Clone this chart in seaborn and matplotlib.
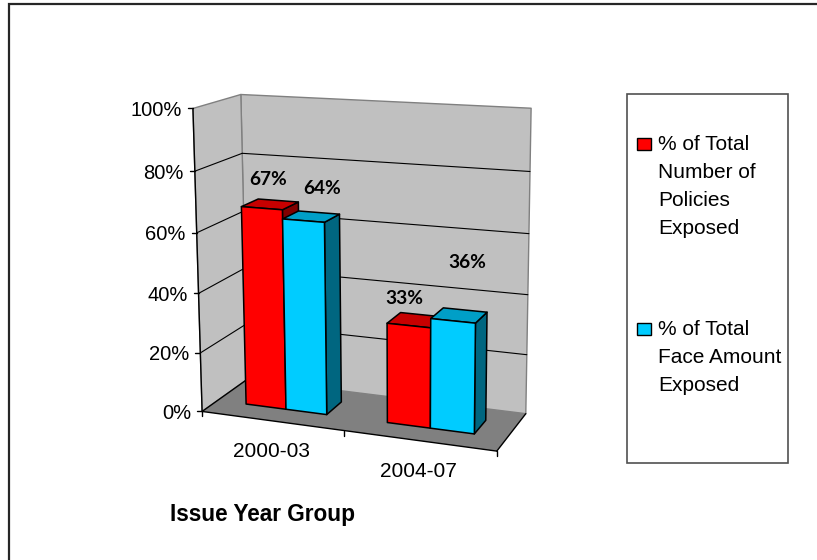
import numpy as np
import pandas as pd
import matplotlib
matplotlib.use("Agg")
import matplotlib.pyplot as plt
from matplotlib.patches import Polygon, Rectangle
from matplotlib.lines import Line2D
from matplotlib.transforms import Transform
import seaborn as sns

# ---- data -------------------------------------------------------------
groups = ["2000-03", "2004-07"]
series = ["% of Total Number of Policies Exposed",
          "% of Total Face Amount Exposed"]
policies_pct = [0.67, 0.33]
face_amount_pct = [0.64, 0.36]
value_ticks = [0.0, 0.2, 0.4, 0.6, 0.8, 1.0]
value_tick_labels = ["0%", "20%", "40%", "60%", "80%", "100%"]
legend_lines = [["% of Total", "Number of", "Policies", "Exposed"],
                ["% of Total", "Face Amount", "Exposed"]]
x_title = "Issue Year Group"

# ---- style / layout ---------------------------------------------------
W, H = 817, 560
RED, BLUE = "#FF0000", "#00CCFF"
WALL, FLOOR, WALL_EDGE = "#C0C0C0", "#808080", "#808080"
BAR_DEPTH = (0.33, 0.70)          # front / back of the columns inside the box
LABEL_OFFSETS = [(-2, -26), (11, -30), (-11, -23), (8, -54)]  # px, per column

sns.set_theme(style="white")
plt.rcParams["font.family"] = ["Liberation Sans", "DejaVu Sans"]

df = pd.DataFrame({
    "group": groups * 2,
    "series": [series[0]] * len(groups) + [series[1]] * len(groups),
    "value": policies_pct + face_amount_pct,
})

# ---- perspective camera for the 3-D plot box ---------------------------
# box coordinates: X along the categories (0..n), D depth (0 front, 1 back),
# V value (0..1); the camera is fitted to the frame of the box.
n = len(groups)
frame_3d = np.array([
    [0, 0, 0], [n, 0, 0], [0, 1, 0], [n, 1, 0],
    [0, 0, 1], [0, 1, 1], [n, 1, 1], [1, 0, 0],
    [0, 0, .2], [0, 0, .4], [0, 0, .6], [0, 0, .8],
    [0, 1, .6], [0, 1, .8], [n, 1, .6], [n, 1, .8],
], float)
frame_px = np.array([
    [203, 410], [497, 452], [246, 381], [526, 411],
    [192, 108], [242, 94], [530, 108], [343, 433],
    [201, 350], [199, 293], [197, 234], [194, 172],
    [243, 213], [243, 152], [530, 234], [530, 172],
], float)


def fit_camera(p3, p2):
    m = p2.mean(axis=0)
    s = p2.std()
    q = (p2 - m) / s
    rows = []
    for (X, D, V), (u, v) in zip(p3, q):
        p = [X, D, V, 1.0]
        rows.append(p + [0, 0, 0, 0] + [-u * c for c in p])
        rows.append([0, 0, 0, 0] + p + [-v * c for c in p])
    _, _, vt = np.linalg.svd(np.array(rows))
    P = vt[-1].reshape(3, 4)
    T = np.array([[s, 0, m[0]], [0, s, m[1]], [0, 0, 1]])
    return T @ P


CAM = fit_camera(frame_3d, frame_px)


def proj(X, D, V):
    X, D, V = np.broadcast_arrays(np.asarray(X, float), np.asarray(D, float),
                                  np.asarray(V, float))
    h = CAM @ np.vstack([X.ravel(), D.ravel(), V.ravel(), np.ones(X.size)])
    return h[0] / h[2], h[1] / h[2]


def pt(X, D, V):
    u, v = proj(X, D, V)
    return float(u[0]), float(v[0])


class FrontPlane(Transform):
    """Maps seaborn's (category position, value) onto the columns' front plane."""
    input_dims = 2
    output_dims = 2
    is_separable = False

    def __init__(self, plane_depth, x_shift):
        super().__init__()
        self.plane_depth = plane_depth
        self.x_shift = x_shift

    def transform_non_affine(self, values):
        values = np.asarray(values, float).reshape(-1, 2)
        u, v = proj(values[:, 0] + self.x_shift, self.plane_depth, values[:, 1])
        return np.column_stack([u, v])


# ---- figure -----------------------------------------------------------
fig = plt.figure(figsize=(W / 100, H / 100), dpi=100)
ax = fig.add_axes([0, 0, 1, 1])

sns.barplot(data=df, x="group", y="value", hue="series", order=groups,
            hue_order=series, palette=[RED, BLUE], saturation=1,
            width=0.58, edgecolor="black", linewidth=1.1, errorbar=None,
            legend=False, ax=ax)
bars = sorted(ax.patches, key=lambda p: p.get_x())

ax.set_xlim(0, W)
ax.set_ylim(H, 0)
ax.set_axis_off()


def face(corners, color, z, edge="black", lw=1.1):
    verts = [pt(*c) for c in corners]
    ax.add_patch(Polygon(verts, closed=True, facecolor=color, edgecolor=edge,
                         linewidth=lw, zorder=z, joinstyle="round"))


def seg(a, b, color="black", lw=0.9, z=3):
    (x0, y0), (x1, y1) = pt(*a), pt(*b)
    ax.add_line(Line2D([x0, x1], [y0, y1], color=color, lw=lw, zorder=z))


# walls and floor
face([(0, 1, 0), (n, 1, 0), (n, 1, 1), (0, 1, 1)], WALL, 1, edge=WALL_EDGE, lw=1)
face([(0, 0, 0), (0, 1, 0), (0, 1, 1), (0, 0, 1)], WALL, 1, edge=WALL_EDGE, lw=1)
face([(0, 0, 0), (n, 0, 0), (n, 1, 0), (0, 1, 0)], FLOOR, 1, edge="none", lw=0)
seg((0, 0, 0), (n, 0, 0), lw=1.0)
seg((0, 0, 0), (0, 1, 0), lw=1.0)
seg((n, 0, 0), (n, 1, 0), lw=1.0)

# gridlines on side and back walls
for v in value_ticks[1:-1]:
    seg((0, 0, v), (0, 1, v), lw=0.8, z=2)
    seg((0, 1, v), (n, 1, v), lw=0.8, z=2)

# value axis with ticks and labels
seg((0, 0, 0), (0, 0, 1), lw=1.0, z=4)
for v, lab in zip(value_ticks, value_tick_labels):
    x, y = pt(0, 0, v)
    ax.add_line(Line2D([x - 5, x], [y, y], color="black", lw=1.0, zorder=4))
    ax.text(x - 11, y, lab, ha="right", va="center_baseline", fontsize=14.5,
            color="black")

# category axis ticks and labels
for k in range(n + 1):
    x, y = pt(k, 0, 0)
    ax.add_line(Line2D([x, x], [y, y + 5], color="black", lw=1.0, zorder=4))
for k, g in enumerate(groups):
    x, y = pt(k + 0.5, 0, 0)
    ax.text(x, y + 29, g, ha="center", va="center_baseline", fontsize=15,
            color="black")

ax.text(263, 512, x_title, ha="center", va="center_baseline", fontsize=16.3,
        fontweight="bold", color="black")

# columns: seaborn front faces projected onto the front plane,
# plus top and side faces in darker shades
d0, d1 = BAR_DEPTH
front_tr = FrontPlane(d0, 0.5) + ax.transData
for i, p in enumerate(bars):
    X0 = p.get_x() + 0.5
    X1 = X0 + p.get_width()
    h = p.get_height()
    rgb = np.array(p.get_facecolor()[:3])
    face([(X1, d0, 0), (X1, d1, 0), (X1, d1, h), (X1, d0, h)],
         tuple(rgb * 0.5), 10 + 3 * i)
    face([(X0, d0, h), (X1, d0, h), (X1, d1, h), (X0, d1, h)],
         tuple(rgb * 0.78), 11 + 3 * i)
    p.set_transform(front_tr)
    p.set_zorder(12 + 3 * i)
    p.set_clip_on(False)
    p.set_joinstyle("round")

    x, y = pt((X0 + X1) / 2, (d0 + d1) / 2, h)
    dx, dy = LABEL_OFFSETS[i]
    ax.text(x + dx, y + dy, f"{h:.0%}", ha="center", va="center_baseline",
            fontsize=13.8, fontweight="bold", family=["Lato", "DejaVu Sans"],
            color="black", zorder=30)

# legend
ax.add_patch(Rectangle((627, 94), 161, 369, facecolor="white",
                       edgecolor="#505050", linewidth=1.2, zorder=5))
entry_baselines = [150, 335]
for color, lines, base in zip([RED, BLUE], legend_lines, entry_baselines):
    ax.add_patch(Rectangle((637, base - 12), 14, 12, facecolor=color,
                           edgecolor="black", linewidth=1.0, zorder=6))
    for j, line in enumerate(lines):
        ax.text(658, base + 28 * j, line, ha="left", va="baseline",
                fontsize=15, color="black", zorder=6)

# outer chart border
ax.add_line(Line2D([9, 9, W], [H, 4, 4], color="#262626", lw=1.6, zorder=40,
                   solid_joinstyle="miter"))

fig.savefig("out.png", dpi=100)
